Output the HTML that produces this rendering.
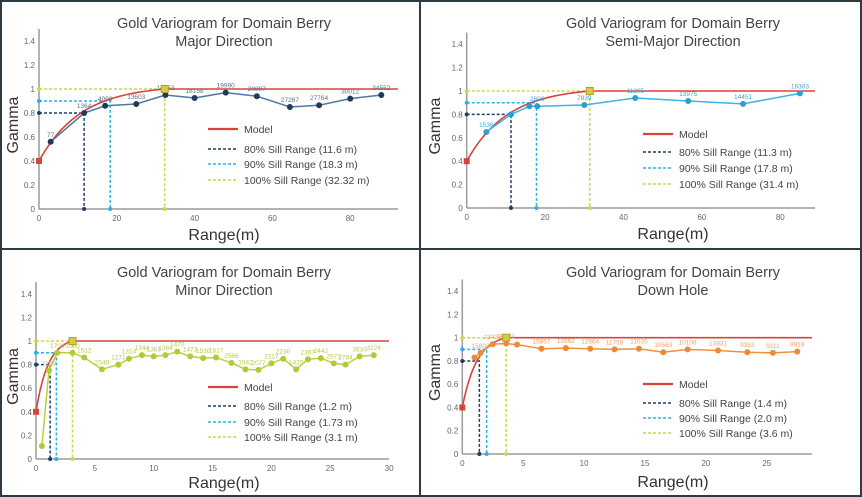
<!DOCTYPE html>
<html><head><meta charset="utf-8"><style>
html,body{margin:0;padding:0;background:#fff}
svg{display:block;font-family:"Liberation Sans",sans-serif}
</style></head><body>
<svg id="fig" width="862" height="497" viewBox="0 0 862 497" xmlns="http://www.w3.org/2000/svg">
<rect x="1" y="1" width="860" height="495" fill="#fff" stroke="#2e3b44" stroke-width="2"/>
<line x1="420" y1="0" x2="420" y2="497" stroke="#2e3b44" stroke-width="2"/>
<line x1="0" y1="249" x2="862" y2="249" stroke="#2e3b44" stroke-width="2"/>
</svg>
<script>
// ---- Panel 1: Major ----
const majorX = [3, 11.6, 17, 25, 32.5, 40, 48, 56, 64.5, 72, 80, 88];
const majorY = [0.56, 0.80, 0.86, 0.875, 0.95, 0.925, 0.97, 0.94, 0.85, 0.865, 0.92, 0.95];
const majorLabels = ["77","1364","4998","13603","14553","18158","19990","20807","27267","27764","30012","34552"];
const majorRanges = [11.6, 18.3, 32.32];
const majorNugget = [0.4];
const majorXTicks = [0, 20, 40, 60, 80];
// ---- Panel 2: Semi-major ----
const semiX = [5, 11.3, 16, 18, 30, 43, 56.5, 70.5, 85];
const semiY = [0.65, 0.80, 0.87, 0.87, 0.88, 0.94, 0.915, 0.89, 0.98];
const semiLabels = ["1536","","","2803","7839","11395","13975","14451","18303"];
const semiRanges = [11.3, 17.8, 31.4];
const semiNugget = [0.4];
const semiXTicks = [0, 20, 40, 60, 80];
// ---- Panel 3: Minor ----
const minorX = [0.5, 1.1, 1.8, 3.1, 4.1, 5.6, 7, 7.9, 9, 10, 11, 12, 13.1, 14.2, 15.3, 16.6, 17.8, 18.9, 20, 21, 22.1, 23.1, 24.2, 25.3, 26.3, 27.5, 28.7];
const minorY = [0.11, 0.75, 0.90, 0.90, 0.86, 0.76, 0.80, 0.85, 0.88, 0.87, 0.88, 0.91, 0.87, 0.855, 0.86, 0.815, 0.76, 0.755, 0.81, 0.85, 0.76, 0.845, 0.855, 0.81, 0.80, 0.87, 0.88];
const minorLabels = ["","1199","1700","1060","1512","2549","1271","1314","1344","1363","1384","1470","1473","1530","1617","2566","1942","2077","2117","2230","1425","2367","2442","2571","2784","3533","3224"];
const minorRanges = [1.2, 1.73, 3.1];
const minorNugget = [0.4];
const minorXTicks = [0, 5, 10, 15, 20, 25, 30];
// ---- Panel 4: Down hole ----
const downX = [1.0, 1.5, 2.5, 3.6, 4.5, 6.5, 8.5, 10.5, 12.5, 14.5, 16.5, 18.5, 21, 23.4, 25.5, 27.5];
const downY = [0.83, 0.87, 0.945, 0.95, 0.94, 0.905, 0.91, 0.905, 0.90, 0.905, 0.875, 0.90, 0.89, 0.875, 0.87, 0.88];
const downLabels = ["","15803","23438","19001","","15857","13962","12664","11759","11035","10563","10108","13831","9353","9111","8918"];
const downRanges = [1.4, 2.0, 3.6];
const downNugget = [0.4];
const downXTicks = [0, 5, 10, 15, 20, 25];
const yTicks = [0, 0.2, 0.4, 0.6, 0.8, 1, 1.2, 1.4];

const NS = "http://www.w3.org/2000/svg";
const svg = document.getElementById("fig");
function mk(tag, attrs, parent) {
  const e = document.createElementNS(NS, tag);
  for (const k in attrs) e.setAttribute(k, attrs[k]);
  (parent || svg).appendChild(e);
  return e;
}
function fmt(v) { return Number.isInteger(v) ? v.toFixed(1) : String(v); }
const sillCols = ["#1f3d6b", "#27b3e6", "#c9d94a"];
const sillFrac = [0.8, 0.9, 1.0];

function panel(p) {
  const g = mk("g", {});
  
  
  const sx = v => p.x0 + v * p.kx;
  const sy = v => p.y0 - v * p.ky;
  const t1 = mk("text", {x: p.cx, y: p.ty, "text-anchor": "middle", "font-size": 14.5, fill: "#444"}, g);
  t1.textContent = "Gold Variogram for Domain Berry";
  
  
  const t2 = mk("text", {x: p.cx, y: p.ty + 18, "text-anchor": "middle", "font-size": 14.5, fill: "#444"}, g);
  t2.textContent = p.sub;
  
  
  const ax = mk("line", {x1: p.x0, y1: p.y0, x2: p.xend, y2: p.y0, stroke: "#9a9a9a", "stroke-width": 1.5}, g);
  
  
  const ay = mk("line", {x1: p.x0, y1: p.y0, x2: p.x0, y2: sy(1.5), stroke: "#9a9a9a", "stroke-width": 1.5}, g);
  
  
  yTicks.forEach(v => {
    const tl = mk("text", {x: p.x0 - 4, y: sy(v) + 3, "text-anchor": "end", "font-size": 8, fill: "#666"}, g);
    tl.textContent = String(v);
    
    
  });
  p.xt.forEach(v => {
    const tl = mk("text", {x: sx(v), y: p.y0 + 12, "text-anchor": "middle", "font-size": 8, fill: "#666"}, g);
    tl.textContent = String(v);
    
    
  });
  const xl = mk("text", {x: p.cx, y: p.xly, "text-anchor": "middle", "font-size": 16, fill: "#333"}, g);
  xl.textContent = "Range(m)";
  
  
  const gy = (p.y0 + sy(1.4)) / 2;
  const yl = mk("text", {x: p.glx, y: gy, "text-anchor": "middle", "font-size": 16, fill: "#333", transform: `rotate(-90 ${p.glx} ${gy})`}, g);
  yl.textContent = "Gamma";
  
  
  p.ranges.forEach((r, i) => {
    const c = sillCols[i], f = sillFrac[i];
    const pl = mk("polyline", {points: `${sx(0)},${sy(f)} ${sx(r)},${sy(f)} ${sx(r)},${p.y0}`, fill: "none", stroke: c, "stroke-width": 1.5, "stroke-dasharray": "3,2"}, g);
    
    
    [[0, f], [r, 0]].forEach(q => {
      const m = mk("circle", {cx: sx(q[0]), cy: sy(q[1]), r: 2, fill: c}, g);
      
      
    });
  });
  const n = p.nug[0], a = p.ranges[2];
  let pts = [];
  for (let k = 0; k <= 60; k++) {
    const h = a * k / 60;
    const gm = n + (1 - n) * (1 - Math.exp(-3 * h / a)) / (1 - Math.exp(-3));
    pts.push(sx(h) + "," + sy(gm));
  }
  pts.push(p.xend + "," + sy(1));
  const mo = mk("polyline", {points: pts.join(" "), fill: "none", stroke: "#d8433a", "stroke-width": 1.6}, g);
  
  
  const ms = mk("rect", {x: sx(0) - 3, y: sy(n) - 3, width: 6, height: 6, fill: "#d8433a"}, g);
  
  
  const sp = p.xs.map((x, i) => sx(x) + "," + sy(p.ys[i])).join(" ");
  const sl = mk("polyline", {points: sp, fill: "none", stroke: p.lc, "stroke-width": 1.5}, g);
  
  
  p.xs.forEach((x, i) => {
    const d = mk("circle", {cx: sx(x), cy: sy(p.ys[i]), r: 3, fill: p.dc}, g);
    
    
    if (p.labs[i]) {
      const lt = mk("text", {x: sx(x), y: sy(p.ys[i]) - 5, "text-anchor": "middle", "font-size": 6.5, fill: p.tc}, g);
      lt.textContent = p.labs[i];
      
      
    }
  });
  const ys = mk("rect", {x: sx(a) - 3.5, y: sy(1) - 3.5, width: 7, height: 7, fill: "#d9c948", stroke: "#b0a030"}, g);
  
  
  const leg = mk("g", {}, g);
  
  
  const items = [["Model", "#d8433a", null], ["80% Sill Range (" + fmt(p.ranges[0]) + " m)", sillCols[0], "3,2"], ["90% Sill Range (" + fmt(p.ranges[1]) + " m)", sillCols[1], "3,2"], ["100% Sill Range (" + fmt(p.ranges[2]) + " m)", sillCols[2], "3,2"]];
  items.forEach((it, i) => {
    const y = p.ly[i];
    const la = {x1: p.lx, y1: y, x2: p.lx + 30, y2: y, stroke: it[1], "stroke-width": it[2] ? 1.6 : 2.2};
    if (it[2]) la["stroke-dasharray"] = it[2];
    const ln = mk("line", la, leg);
    
    
    const tx = mk("text", {x: p.lx + 36, y: y + 4, "font-size": 10.5, fill: "#444"}, leg);
    tx.textContent = it[0];
    
    
  });
}

panel({name: "major-direction-chart", sub: "Major Direction", x0: 39, y0: 209, kx: 3.89, ky: 120, xend: 398, cx: 224, ty: 28, xly: 240, glx: 18,
  xs: majorX, ys: majorY, labs: majorLabels, ranges: majorRanges, nug: majorNugget, xt: majorXTicks,
  lc: "#4b7aa5", dc: "#1e3a5c", tc: "#5a6f8a", lx: 208, ly: [129, 149, 164, 180]});
panel({name: "semi-major-direction-chart", sub: "Semi-Major Direction", x0: 466.7, y0: 208, kx: 3.92, ky: 117, xend: 815, cx: 673, ty: 28, xly: 239, glx: 440,
  xs: semiX, ys: semiY, labs: semiLabels, ranges: semiRanges, nug: semiNugget, xt: semiXTicks,
  lc: "#3bb4e6", dc: "#2a9fd4", tc: "#3aa8dd", lx: 643, ly: [134, 152, 168, 184]});
panel({name: "minor-direction-chart", sub: "Minor Direction", x0: 36, y0: 459, kx: 11.77, ky: 118, xend: 389, cx: 224, ty: 277, xly: 488, glx: 18,
  xs: minorX, ys: minorY, labs: minorLabels, ranges: minorRanges, nug: minorNugget, xt: minorXTicks,
  lc: "#bcd03c", dc: "#b3c936", tc: "#b8cb4a", lx: 208, ly: [387, 406, 422, 437]});
panel({name: "down-hole-chart", sub: "Down Hole", x0: 462.3, y0: 454, kx: 12.18, ky: 116.3, xend: 812, cx: 673, ty: 277, xly: 487, glx: 440,
  xs: downX, ys: downY, labs: downLabels, ranges: downRanges, nug: downNugget, xt: downXTicks,
  lc: "#f0913a", dc: "#ec8a35", tc: "#f0a070", lx: 643, ly: [384, 403, 418, 433]});
</script>
</body></html>
